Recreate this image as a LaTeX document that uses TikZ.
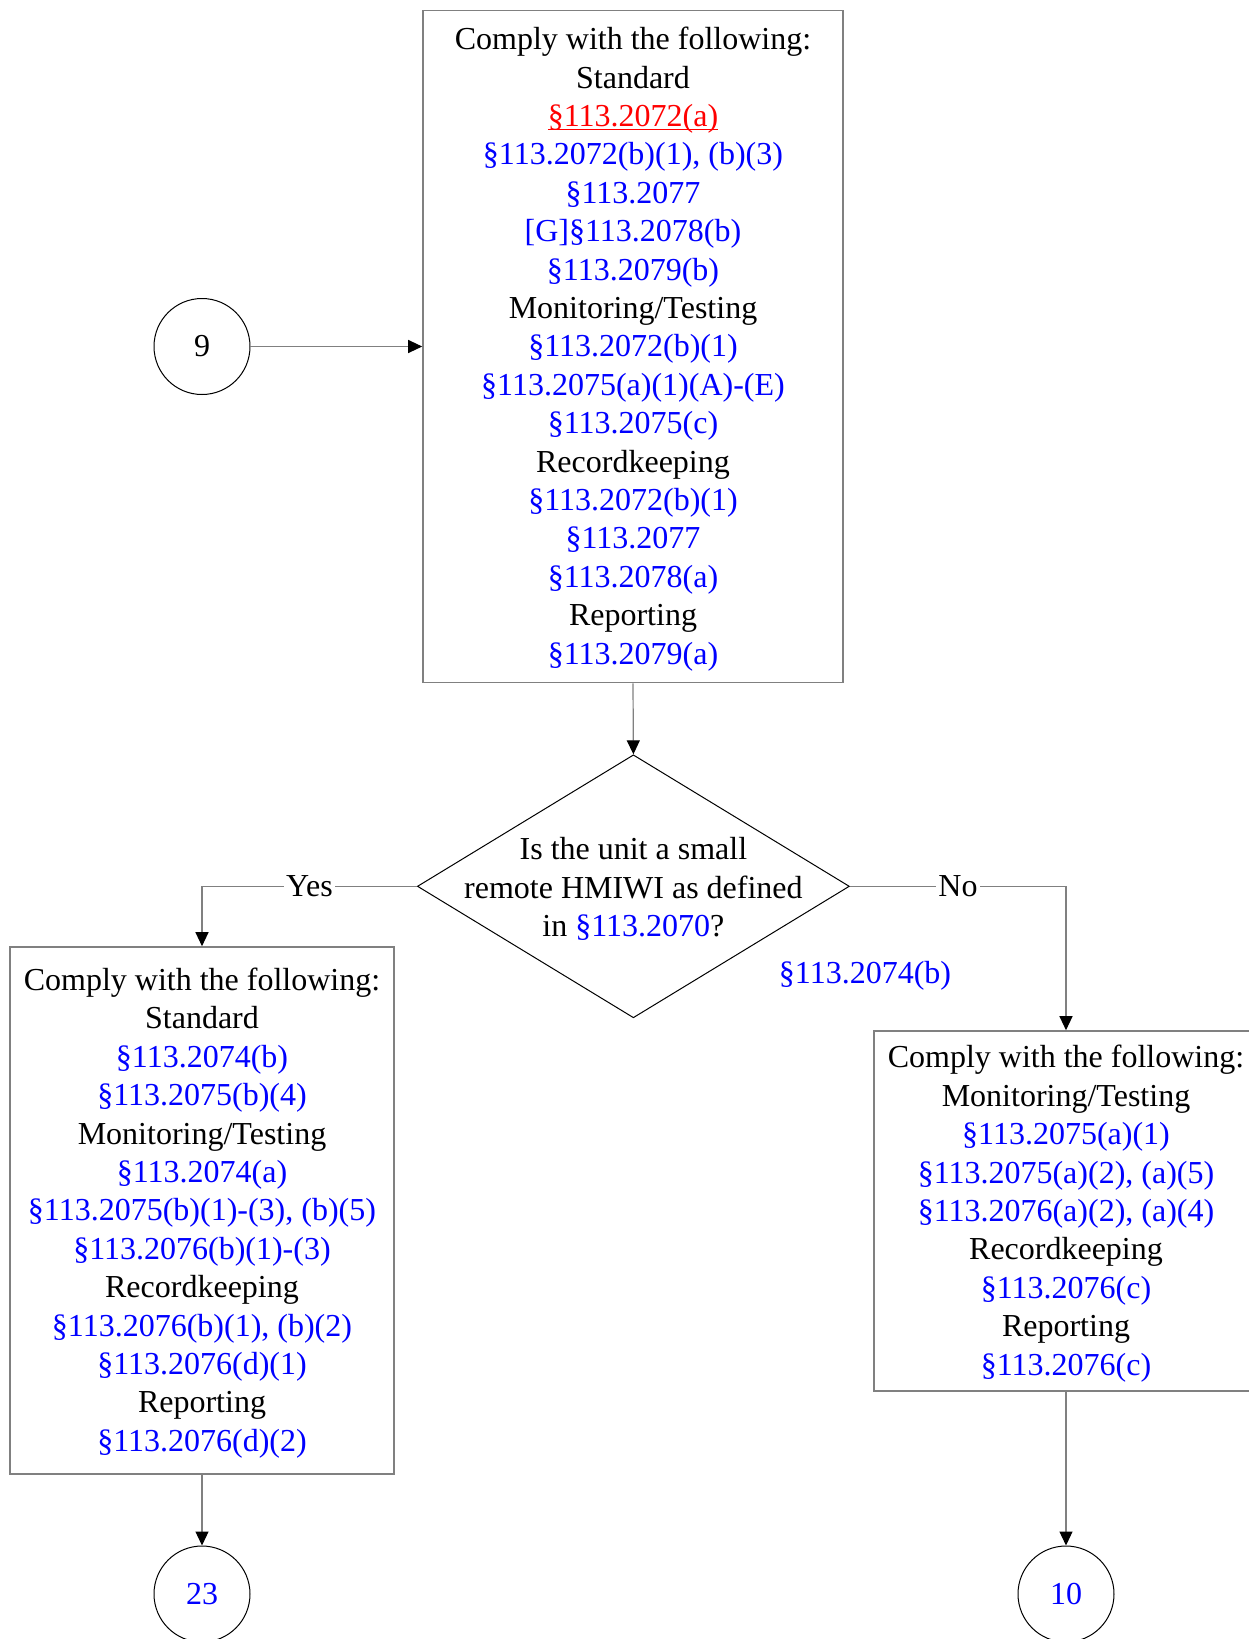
\documentclass[tikz,border=0pt]{standalone}
\usepackage{fontspec}
\setmainfont{Liberation Serif}
\usepackage{xcolor}
\definecolor{mblue}{HTML}{0000FF}
\definecolor{mred}{HTML}{FF0000}
\definecolor{mgrey}{HTML}{808080}
\usepackage{tikz}
\usetikzlibrary{arrows.meta,shapes.geometric}
\newcommand{\rb}[1]{\textcolor{mblue}{#1}}
\newcommand{\ulref}[1]{\setbox0\hbox{#1}\rlap{\rule[-1.7pt]{\wd0}{0.6pt}}\box0}

\begin{document}
\begin{tikzpicture}[x=0.5pt, y=-0.5pt,
        every node/.style={font=\fontsize{16}{19.2}\selectfont},
        rulebox/.style={draw=mgrey, line width=0.8pt, inner sep=0pt},
        ruletext/.style={align=center, inner sep=0pt, yshift=-1.3pt},
        jump/.style={circle, draw, line width=0.5pt, minimum size=48pt, inner sep=0pt},
        decision/.style={diamond, draw, line width=0.5pt, minimum width=216pt, minimum height=131.5pt, inner sep=0pt},
        flow/.style={draw=mgrey, line width=0.6pt, -{Triangle[length=7pt, width=6.5pt, color=black, fill=black]}},
        answer/.style={fill=white, inner sep=1pt}]
        \useasboundingbox (0, 0) rectangle (1248, 1639);

        \node[jump] (c9) at (202, 346.5) {9};
        \node[rulebox, minimum width=210pt, minimum height=336pt] (rules) at (633, 346.5) {};
        \node[ruletext] (rulestext) at (rules) {Comply with the following:\\ Standard\\ \textcolor{mred}{\ulref{\S113.2072(a)}}\\ \rb{\S113.2072(b)(1), (b)(3)}\\ \rb{\S113.2077}\\ \rb{[G]\S113.2078(b)}\\ \rb{\S113.2079(b)}\\ Monitoring/Testing\\ \rb{\S113.2072(b)(1)}\\ \rb{\S113.2075(a)(1)(A)-(E)}\\ \rb{\S113.2075(c)}\\ Recordkeeping\\ \rb{\S113.2072(b)(1)}\\ \rb{\S113.2077}\\ \rb{\S113.2078(a)}\\ Reporting\\ \rb{\S113.2079(a)}};

        \node[decision] (small) at (633.4, 886.3) {};
        \node[ruletext] (smalltext) at (small) {Is the unit a small\\ remote HMIWI as defined\\ in \rb{\S113.2070}?};
        \node[text=mblue] (subref) at (865, 976) {\S113.2074(b)};

        \node[rulebox, minimum width=192pt, minimum height=263.5pt] (yesbox) at (202, 1210.5) {};
        \node[ruletext] (yestext) at (yesbox) {Comply with the following:\\ Standard\\ \rb{\S113.2074(b)}\\ \rb{\S113.2075(b)(4)}\\ Monitoring/Testing\\ \rb{\S113.2074(a)}\\ \rb{\S113.2075(b)(1)-(3), (b)(5)}\\ \rb{\S113.2076(b)(1)-(3)}\\ Recordkeeping\\ \rb{\S113.2076(b)(1), (b)(2)}\\ \rb{\S113.2076(d)(1)}\\ Reporting\\ \rb{\S113.2076(d)(2)}};
        \node[rulebox, minimum width=192pt, minimum height=180pt] (nobox) at (1066, 1211) {};
        \node[ruletext] (notext) at (nobox) {Comply with the following:\\ Monitoring/Testing\\ \rb{\S113.2075(a)(1)}\\ \rb{\S113.2075(a)(2), (a)(5)}\\ \rb{\S113.2076(a)(2), (a)(4)}\\ Recordkeeping\\ \rb{\S113.2076(c)}\\ Reporting\\ \rb{\S113.2076(c)}};

        \node[jump, text=mblue] (c23) at (202, 1594) {23};
        \node[jump, text=mblue] (c10) at (1066, 1594) {10};

        \draw[flow] (c9.east) -- (rules.west);
        \draw[flow] (rules.south) -- (small.north);
        \draw[flow] (small.west) -| node[answer, pos=0.25]{Yes} (yesbox.north);
        \draw[flow] (small.east) -| node[answer, pos=0.25]{No} (nobox.north);
        \draw[flow] (yesbox.south) -- (c23.north);
        \draw[flow] (nobox.south) -- (c10.north);
    \end{tikzpicture}
\end{document}
